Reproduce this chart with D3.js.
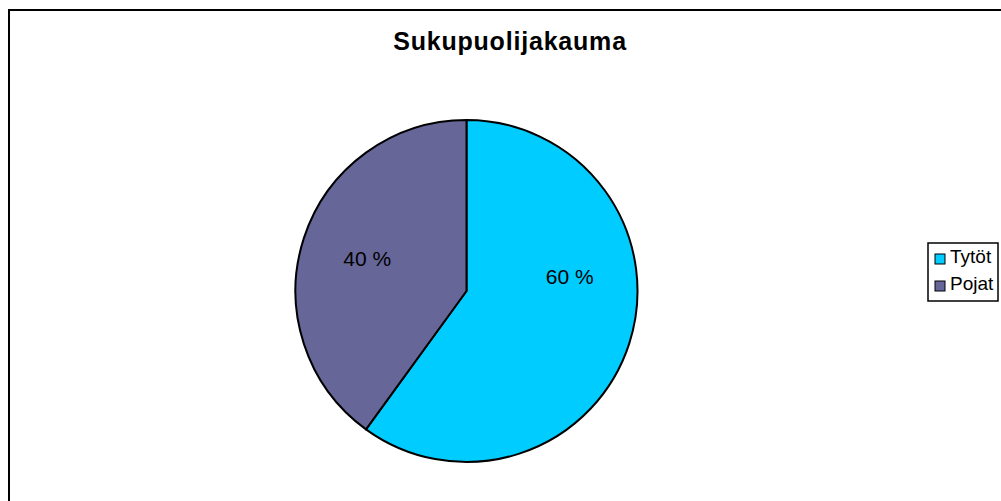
<!DOCTYPE html>
<html>
  <head>
    <meta charset="utf-8">
    <title>Sukupuolijakauma</title>
    <script src="https://d3js.org/d3.v7.min.js"></script>
    <style>
      body { margin: 0; background: #fff; }
      text { font-family: "Liberation Sans", Arial, sans-serif; }
    </style>
  </head>
  <body>
    <svg width="1001" height="501"></svg>
    <script>
      const categories = ["Tytöt", "Pojat"];
      const values = [60, 40];
      const labels = ["60 %", "40 %"];
      const colors = ["#00ccff", "#666699"];
      // label angle shift (degrees) relative to the slice middle
      const labelShift = [-26, 0];

      const svg = d3.select("svg");
      const width = +svg.attr("width");
      const height = +svg.attr("height");

      // chart frame
      svg.append("rect")
        .attr("x", 9).attr("y", 10)
        .attr("width", width + 10).attr("height", height + 10)
        .attr("fill", "#fff")
        .attr("stroke", "#000")
        .attr("stroke-width", 2);

      svg.append("text")
        .attr("x", 510).attr("y", 50)
        .attr("text-anchor", "middle")
        .attr("font-size", 25)
        .attr("font-weight", "bold")
        .attr("letter-spacing", 0.8)
        .text("Sukupuolijakauma");

      const cx = 466.5, cy = 291, radius = 171;
      const data = categories.map((c, i) => ({ name: c, value: values[i], label: labels[i], color: colors[i], shift: labelShift[i] }));

      const pie = d3.pie().value(d => d.value).sort(null);
      const arc = d3.arc().innerRadius(0).outerRadius(radius);
      const arcs = pie(data);

      const g = svg.append("g").attr("transform", `translate(${cx},${cy})`);
      g.selectAll("path").data(arcs).join("path")
        .attr("d", arc)
        .attr("fill", d => d.data.color)
        .attr("stroke", "#000")
        .attr("stroke-width", 2)
        .attr("stroke-linejoin", "round");

      const labelR = radius * 0.61;
      const mid = d => (d.startAngle + d.endAngle) / 2 + d.data.shift * Math.PI / 180;
      g.selectAll("text.lbl").data(arcs).join("text")
        .attr("class", "lbl")
        .attr("x", d => labelR * Math.sin(mid(d)))
        .attr("y", d => -labelR * Math.cos(mid(d)))
        .attr("dy", "0.35em")
        .attr("text-anchor", "middle")
        .attr("font-size", 21)
        .attr("fill", "#000")
        .text(d => d.data.label);

      // legend
      const legend = svg.append("g").attr("transform", "translate(928,243)");
      legend.append("rect")
        .attr("width", 70).attr("height", 58)
        .attr("fill", "#fff")
        .attr("stroke", "#000")
        .attr("stroke-width", 1.5);
      const item = legend.selectAll("g.item").data(data).join("g")
        .attr("class", "item")
        .attr("transform", (d, i) => `translate(7,${11 + i * 27})`);
      item.append("rect")
        .attr("width", 10).attr("height", 10)
        .attr("fill", d => d.color)
        .attr("stroke", "#000")
        .attr("stroke-width", 1);
      item.append("text")
        .attr("x", 15).attr("y", 9)
        .attr("font-size", 19)
        .text(d => d.name);
    </script>
  </body>
</html>
